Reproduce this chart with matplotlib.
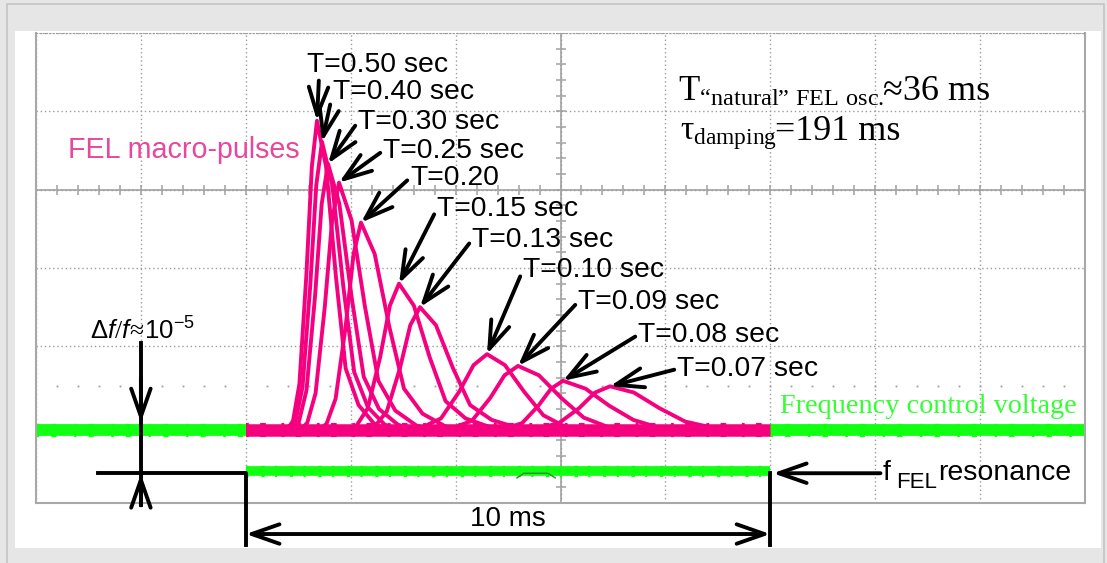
import matplotlib.pyplot as plt
import matplotlib.patches as mpatches
import numpy as np

plt.rcParams['font.family'] = ['Liberation Sans', 'DejaVu Sans']
plt.rcParams['mathtext.fontset'] = 'custom'
plt.rcParams['mathtext.rm'] = 'Liberation Serif'
plt.rcParams['mathtext.sf'] = 'Liberation Sans'
plt.rcParams['mathtext.it'] = 'Liberation Sans:italic'

# time in ms (2 ms / div), signal in screen divisions from the bottom edge
baseline = 0.93
gate_t = [4.0, 14.0]
lower_level = 0.41
step_level = 0.38
bump_t = [9.17, 9.30, 9.76, 9.90]
bump_v = [0.32, 0.38, 0.38, 0.32]

# FEL macro-pulses, points
p050_t = [4.780, 4.901, 5.022, 5.154, 5.259, 5.357, 5.531, 5.717, 5.903, 6.150, 6.450, 6.750]
p050_v = [0.93, 1.05, 1.52, 2.90, 4.29, 4.88, 4.29, 2.90, 1.72, 1.25, 1.01, 0.93]
p040_t = [4.820, 4.947, 5.081, 5.228, 5.344, 5.453, 5.649, 5.858, 6.067, 6.330, 6.650, 6.950]
p040_v = [0.93, 1.04, 1.48, 2.77, 4.06, 4.61, 4.06, 2.77, 1.67, 1.22, 1.00, 0.93]
p030_t = [4.870, 5.010, 5.157, 5.319, 5.447, 5.567, 5.784, 6.017, 6.249, 6.540, 6.900, 7.200]
p030_v = [0.93, 1.03, 1.44, 2.63, 3.82, 4.33, 3.82, 2.63, 1.61, 1.20, 1.00, 0.93]
p025_t = [5.020, 5.170, 5.330, 5.507, 5.646, 5.777, 6.016, 6.271, 6.527, 6.850, 7.250, 7.550]
p025_v = [0.93, 1.02, 1.40, 2.51, 3.61, 4.09, 3.61, 2.51, 1.56, 1.18, 0.99, 0.93]
p020_t = [5.380, 5.539, 5.712, 5.903, 6.055, 6.196, 6.457, 6.736, 7.016, 7.370, 7.800, 8.100]
p020_v = [0.93, 1.01, 1.33, 2.25, 3.18, 3.58, 3.18, 2.25, 1.46, 1.14, 0.98, 0.93]
p015_t = [5.920, 6.113, 6.326, 6.561, 6.747, 6.921, 7.204, 7.506, 7.809, 8.190, 8.650, 8.950]
p015_v = [0.93, 0.99, 1.21, 1.86, 2.52, 2.80, 2.52, 1.86, 1.30, 1.08, 0.97, 0.93]
p013_t = [6.260, 6.462, 6.689, 6.939, 7.136, 7.321, 7.625, 7.951, 8.277, 8.690, 9.180, 9.500]
p013_v = [0.93, 0.98, 1.17, 1.72, 2.27, 2.50, 2.27, 1.72, 1.25, 1.06, 0.96, 0.93]
p010_t = [7.249, 7.721, 8.068, 8.342, 8.599, 8.941, 9.307, 9.673, 10.069, 10.519]
p010_v = [0.93, 1.08, 1.42, 1.76, 1.90, 1.76, 1.42, 1.12, 0.98, 0.93]
p009_t = [7.840, 8.312, 8.659, 8.933, 9.190, 9.589, 10.016, 10.443, 10.905, 11.430]
p009_v = [0.93, 1.05, 1.34, 1.63, 1.75, 1.63, 1.34, 1.09, 0.97, 0.93]
p008_t = [8.848, 9.268, 9.576, 9.820, 10.048, 10.476, 10.933, 11.391, 11.886, 12.448]
p008_v = [0.93, 1.02, 1.24, 1.46, 1.56, 1.46, 1.24, 1.06, 0.96, 0.93]
p007_t = [9.444, 9.969, 10.354, 10.659, 10.944, 11.400, 11.888, 12.376, 12.904, 13.300]
p007_v = [0.93, 1.02, 1.21, 1.41, 1.49, 1.41, 1.21, 1.04, 0.96, 0.93]

pulses_t = [p050_t, p040_t, p030_t, p025_t, p020_t, p015_t, p013_t, p010_t, p009_t, p008_t, p007_t]
pulses_v = [p050_v, p040_v, p030_v, p025_v, p020_v, p015_v, p013_v, p010_v, p009_v, p008_v, p007_v]

labels = ['T=0.50 sec', 'T=0.40 sec', 'T=0.30 sec', 'T=0.25 sec', 'T=0.20',
          'T=0.15 sec', 'T=0.13 sec', 'T=0.10 sec', 'T=0.09 sec', 'T=0.08 sec', 'T=0.07 sec']
label_t = [5.167, 5.662, 6.139, 6.616, 7.131, 7.645, 8.313, 9.285, 10.334, 11.478, 12.221]
label_v = [5.594, 5.249, 4.866, 4.496, 4.151, 3.755, 3.359, 2.976, 2.567, 2.146, 1.711]

pink = '#f5007f'
green = '#11ff11'
grid_c = '#9c9c9c'
head = '->,head_length=1.0,head_width=0.35'

fig = plt.figure(figsize=(11.07, 5.63), dpi=100, facecolor='#e6e6e6')
fig.patches.append(mpatches.Rectangle((0.0063, -0.02), 0.991, 1.013, transform=fig.transFigure,
                                      facecolor='none', edgecolor='#c4c4c4', lw=1.2, zorder=-10))
fig.patches.append(mpatches.Rectangle((0.01355, 0.02664), 0.98103, 0.91829, transform=fig.transFigure,
                                      facecolor='white', edgecolor='none', zorder=-9))

ax = fig.add_axes([0.03252, 0.10657, 0.94761, 0.83481])
ax.set_facecolor('white')
ax.set_xlim(0, 20)
ax.set_ylim(0, 6)
ax.set_xticks(range(0, 21, 2))
ax.set_yticks(range(0, 7))
ax.tick_params(length=0, labelbottom=False, labelleft=False)
ax.grid(True, ls=(0, (1, 2)), color=grid_c, lw=1)
ax.set_axisbelow(True)
for s in ['left', 'right', 'bottom']:
    ax.spines[s].set_color('#a8a8a8')
    ax.spines[s].set_linewidth(1.5)
ax.spines['top'].set_linestyle((0, (1, 2)))
ax.spines['top'].set_color(grid_c)

# crosshair with minor ticks, and the row of dots
ax.axvline(10, color='#a8a8a8', lw=1.3, zorder=0.5)
ax.axhline(4, color='#a8a8a8', lw=1.3, zorder=0.5)
ax.plot(np.arange(0, 20.01, 0.4), np.full(51, 4.0), ls='none', marker='|', ms=7, mew=1.2, color='#a8a8a8', zorder=0.5)
ax.plot(np.full(31, 10.0), np.arange(0, 6.01, 0.2), ls='none', marker='_', ms=7, mew=1.2, color='#a8a8a8', zorder=0.5)
ax.plot(np.arange(0.4, 20, 0.4), np.full(49, 1.5), ls='none', marker='s', ms=1.3, mew=0, color='#a0a0a0', zorder=0.5)

# frequency control voltage (green) and pulse baseline (pink)
for x0, x1 in [(0, gate_t[0]), (gate_t[1], 20)]:
    ax.plot([x0, x1], [baseline, baseline], color=green, lw=8.5, solid_capstyle='butt', zorder=2)
    ax.plot([x0, x1], [baseline, baseline], color=green, lw=9.6, ls=(0, (0.2, 0.9, 0.4, 1.3)), zorder=2)
ax.plot(gate_t, [lower_level, lower_level], color=green, lw=7, solid_capstyle='butt', zorder=2)
ax.plot(gate_t, [lower_level, lower_level], color=green, lw=8.2, ls=(0, (0.2, 1.1, 0.3, 0.9)), zorder=2)
ax.plot(bump_t, bump_v, color='#2c8f2c', lw=1, zorder=2.1)

ax.plot(gate_t, [baseline, baseline], color=pink, lw=9, solid_capstyle='butt', zorder=3)
ax.plot(gate_t, [baseline, baseline], color=pink, lw=10.2, ls=(0, (0.2, 0.8, 0.4, 1.1)), zorder=3)
for t, v in zip(pulses_t, pulses_v):
    ax.plot(t, v, color=pink, lw=2.8, zorder=3, solid_joinstyle='round')

ax.text(0.61, 4.51, 'FEL macro-pulses', color='#e8489c', fontsize=20.6, ha='left', va='center')
ax.text(14.19, 1.15, 'Frequency control voltage', color='#33ff33', fontsize=20.3,
        family='Liberation Serif', ha='left', va='baseline')

# pulse period labels with arrows to the peaks
for i, (lab, t, v) in enumerate(zip(labels, pulses_t, pulses_v)):
    k = int(np.argmax(v))
    rel = (0.085, 0.05) if i == 0 else (0, 0.5)
    ax.annotate(lab, xy=(t[k], v[k]), xytext=(label_t[i], label_v[i]), textcoords='data',
                ha='left', va='center', fontsize=20.4, color='black', zorder=5,
                annotation_clip=False,
                arrowprops=dict(arrowstyle=head, lw=2.8, color='black', shrinkA=0, shrinkB=0,
                                relpos=rel, mutation_scale=20))

# top-right annotation
ax.text(12.24, 5.147, r'$\mathrm{T}_{\mathrm{“natural”\ FEL\ osc.}}$', fontsize=25,
        ha='left', va='baseline')
ax.text(16.149, 5.147, '≈36 ms', fontsize=26, family='Liberation Serif', ha='left', va='baseline')
ax.text(12.28, 4.64, r'$\mathrm{\tau}_{\mathrm{damping}}$', fontsize=24, ha='left', va='baseline')
ax.text(14.09, 4.64, '=191 ms', fontsize=26, family='Liberation Serif', ha='left', va='baseline')

# delta f / f marker
ax.text(1.03, 2.08, r'$\mathsf{\Delta}\mathit{f/f}\!\approx\!\mathsf{10^{-5}}$', fontsize=18.5,
        ha='left', va='baseline')
ax.plot([2.0, 2.0], [2.04, -0.03], color='black', lw=2.8, clip_on=False, zorder=6)
ax.annotate('', xy=(2.0, 1.03), xytext=(2.0, 1.6), annotation_clip=False, zorder=6,
            arrowprops=dict(arrowstyle=head, lw=2.8, color='black', shrinkA=0, shrinkB=0,
                            mutation_scale=20))
ax.annotate('', xy=(2.0, 0.37), xytext=(2.0, -0.03), annotation_clip=False, zorder=6,
            arrowprops=dict(arrowstyle=head, lw=2.8, color='black', shrinkA=0, shrinkB=0,
                            mutation_scale=20))

# resonance step and 10 ms gate
ax.plot([1.18, gate_t[0], gate_t[0]], [step_level, step_level, -0.54], color='black', lw=2.8,
        clip_on=False, zorder=6)
ax.plot([gate_t[1], gate_t[1]], [step_level, -0.54], color='black', lw=2.8, clip_on=False, zorder=6)
ax.annotate('', xy=(gate_t[0], -0.396), xytext=(gate_t[1], -0.396), annotation_clip=False,
            arrowprops=dict(arrowstyle='<' + head, lw=2.8, color='black', shrinkA=0, shrinkB=0,
                            mutation_scale=20))
ax.text(9.0, -0.2, '10 ms', fontsize=20, ha='center', va='center')
ax.annotate('', xy=(gate_t[1] + 0.05, step_level), xytext=(16.1, step_level), annotation_clip=False,
            arrowprops=dict(arrowstyle=head, lw=2.8, color='black', shrinkA=0, shrinkB=0,
                            mutation_scale=20))
ax.text(16.15, 0.294, 'f', fontsize=20.5, ha='left', va='baseline')
ax.text(16.40, 0.192, 'FEL', fontsize=16, ha='left', va='baseline')
ax.text(17.20, 0.294, 'resonance', fontsize=20.5, ha='left', va='baseline')

fig.savefig('out.png', dpi=100, facecolor=fig.get_facecolor())
